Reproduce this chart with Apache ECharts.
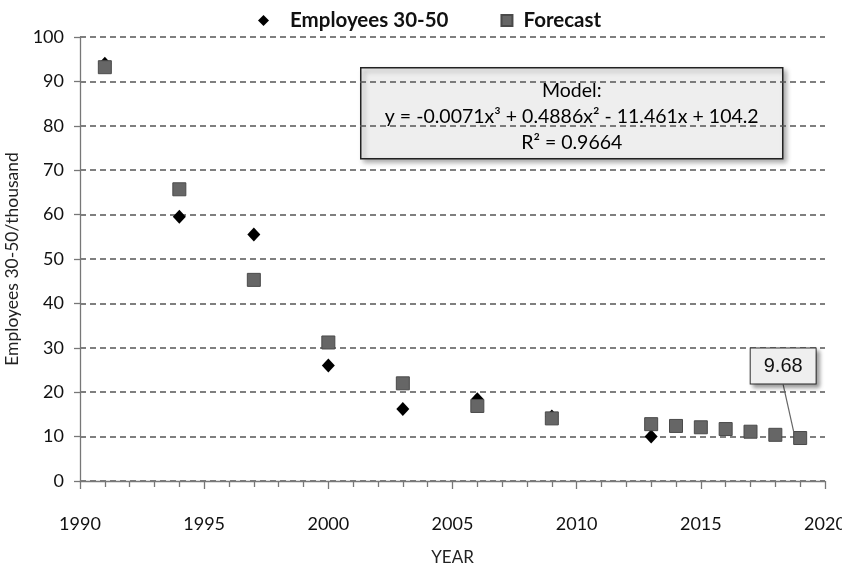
<!DOCTYPE html>
<html>
<head>
<meta charset="utf-8">
<script src="https://cdn.jsdelivr.net/npm/echarts@6/dist/echarts.min.js"></script>
<style>
  html, body { margin: 0; padding: 0; background: #ffffff; }
  #chart { width: 842px; height: 567px; }
</style>
</head>
<body>
<div id="chart"></div>
<script>
// Observed employees aged 30-50 (thousands)
const employeeYears = [1991, 1994, 1997, 2000, 2003, 2006, 2009, 2013];
const employeeValues = [94, 59.5, 55.5, 26, 16.2, 18.4, 14.5, 10];

// Cubic model forecast (thousands)
const forecastYears = [1991, 1994, 1997, 2000, 2003, 2006, 2009, 2013, 2014, 2015, 2016, 2017, 2018, 2019];
const forecastValues = [93.2, 65.7, 45.3, 31.2, 22.0, 16.9, 14.1, 12.8, 12.4, 12.1, 11.7, 11.1, 10.4, 9.68];

const modelLines = ['Model:', 'y = -0.0071x³ + 0.4886x² - 11.461x + 104.2', 'R² = 0.9664'];

const FONT = 'Lato, "Open Sans", sans-serif';

const pairs = (xs, ys) => xs.map((x, i) => [x, ys[i]]);

const forecastData = pairs(forecastYears, forecastValues);
const lastIdx = forecastData.length - 1;
forecastData[lastIdx] = {
  value: forecastData[lastIdx],
  label: {
    show: true,
    formatter: (p) => String(p.value[1]),
    fontFamily: '"Liberation Sans", Arial, sans-serif',
    fontSize: 20,
    color: '#111',
    backgroundColor: '#efefef',
    borderColor: '#333',
    borderWidth: 1,
    padding: [8, 13, 7, 13],
    shadowColor: 'rgba(0,0,0,0.35)',
    shadowBlur: 4,
    shadowOffsetX: 3,
    shadowOffsetY: 3
  },
  labelLine: { show: true, lineStyle: { color: '#666', width: 1.2 } }
};

const legendText = { fontFamily: FONT, fontSize: 20.5, fontWeight: 'bold', color: '#111' };

const chart = echarts.init(document.getElementById('chart'));
chart.setOption({
  animation: false,
  backgroundColor: '#ffffff',
  grid: { left: 80, right: 17, top: 37, bottom: 86, outerBoundsMode: 'none', containLabel: false },
  legend: {
    top: 5,
    left: 253,
    itemGap: 52,
    itemWidth: 11,
    itemHeight: 11,
    textStyle: legendText,
    data: [
      {
        name: 'Employees 30-50', icon: 'diamond',
        itemStyle: { color: '#000', opacity: 1 },
        textStyle: Object.assign({}, legendText, { padding: [0, 0, 0, 16] })
      },
      {
        name: 'Forecast', icon: 'rect',
        itemStyle: { color: '#666', opacity: 1 },
        textStyle: Object.assign({}, legendText, { padding: [0, 0, 0, 6] })
      }
    ]
  },
  xAxis: {
    type: 'value',
    min: 1990,
    max: 2020,
    interval: 5,
    name: 'YEAR',
    nameLocation: 'middle',
    nameGap: 68,
    nameTextStyle: { fontFamily: FONT, fontSize: 17, color: '#222' },
    axisLine: { lineStyle: { color: '#777', width: 1.3 } },
    axisTick: { show: true, length: 8, lineStyle: { color: '#777', width: 1.3 } },
    minorTick: { show: true, splitNumber: 5, length: 6, lineStyle: { color: '#777', width: 1.3 } },
    axisLabel: {
      margin: 34,
      fontFamily: FONT,
      fontSize: 18,
      color: '#111',
      formatter: (v) => String(v)
    },
    splitLine: { show: false }
  },
  yAxis: {
    type: 'value',
    min: 0,
    max: 100,
    interval: 10,
    name: 'Employees 30-50/thousand',
    nameLocation: 'middle',
    nameGap: 57,
    nameTextStyle: { fontFamily: FONT, fontSize: 17.5, color: '#222' },
    axisLine: { show: true, lineStyle: { color: '#777', width: 1.3 } },
    axisTick: { show: true, length: 6, lineStyle: { color: '#777', width: 1.3 } },
    axisLabel: { margin: 16, fontFamily: FONT, fontSize: 18, color: '#111' },
    splitLine: { show: true, lineStyle: { color: '#555', width: 1.5, type: [6, 4] } }
  },
  graphic: [
    {
      type: 'group',
      left: 360,
      top: 67,
      children: [
        {
          type: 'rect',
          shape: { x: 0, y: 0, width: 422, height: 91 },
          style: {
            fill: '#eeeeee',
            stroke: '#222',
            lineWidth: 1.5,
            shadowColor: 'rgba(0,0,0,0.35)',
            shadowBlur: 5,
            shadowOffsetX: 3,
            shadowOffsetY: 3
          }
        },
        {
          type: 'text',
          x: 211,
          y: 10,
          style: {
            text: modelLines.join('\n'),
            fontFamily: FONT,
            fontSize: 19.5,
            lineHeight: 26,
            fill: '#000',
            align: 'center',
            verticalAlign: 'top'
          }
        }
      ]
    }
  ],
  series: [
    {
      name: 'Employees 30-50',
      type: 'scatter',
      symbol: 'diamond',
      symbolSize: [13, 14],
      itemStyle: { color: '#000', opacity: 1 },
      data: pairs(employeeYears, employeeValues),
      z: 2
    },
    {
      name: 'Forecast',
      type: 'scatter',
      symbol: 'rect',
      symbolSize: 13,
      itemStyle: { color: '#666', borderColor: '#4a4a4a', borderWidth: 1, opacity: 1 },
      data: forecastData,
      labelLayout: (p) => p.dataIndex === lastIdx ? { dx: -17, dy: -72 } : {},
      z: 3
    }
  ]
});
</script>
</body>
</html>
